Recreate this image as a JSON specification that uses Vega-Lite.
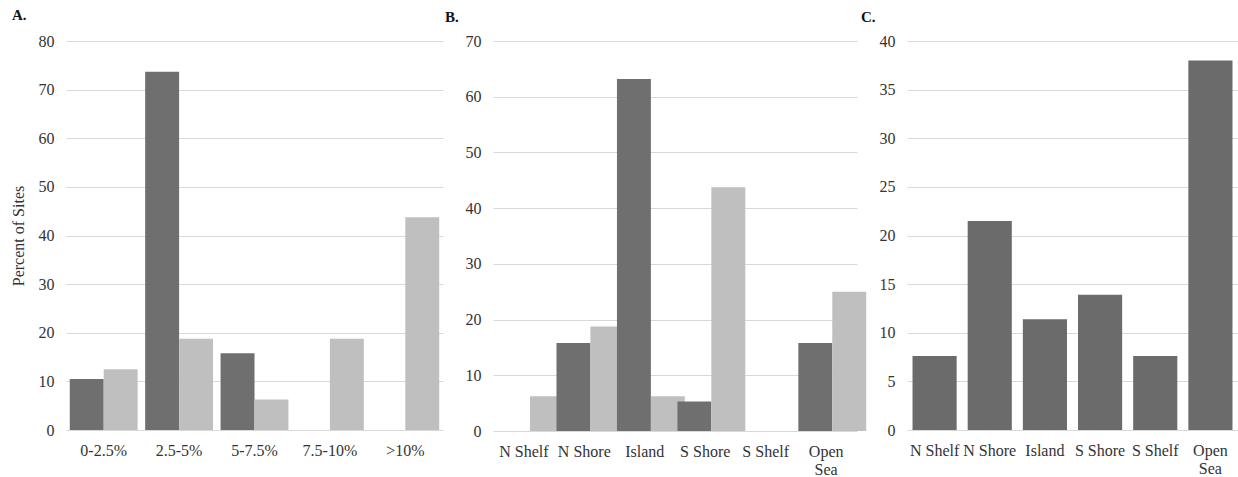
{
  "$schema": "https://vega.github.io/schema/vega-lite/v6.json",
  "padding": {"left": 10, "top": 8, "right": 0, "bottom": 0},
  "background": "white",
  "bounds": "flush",
  "datasets": {
    "a": [
      {"cat": "0-2.5%", "series": "Series 1", "value": 10.5},
      {"cat": "0-2.5%", "series": "Series 2", "value": 12.5},
      {"cat": "2.5-5%", "series": "Series 1", "value": 73.7},
      {"cat": "2.5-5%", "series": "Series 2", "value": 18.75},
      {"cat": "5-7.5%", "series": "Series 1", "value": 15.8},
      {"cat": "5-7.5%", "series": "Series 2", "value": 6.25},
      {"cat": "7.5-10%", "series": "Series 1", "value": 0},
      {"cat": "7.5-10%", "series": "Series 2", "value": 18.75},
      {"cat": ">10%", "series": "Series 1", "value": 0},
      {"cat": ">10%", "series": "Series 2", "value": 43.75}
    ],
    "b": [
      {"cat": "N Shelf", "series": "Series 1", "value": 0},
      {"cat": "N Shelf", "series": "Series 2", "value": 6.25},
      {"cat": "N Shore", "series": "Series 1", "value": 15.8},
      {"cat": "N Shore", "series": "Series 2", "value": 18.75},
      {"cat": "Island", "series": "Series 1", "value": 63.2},
      {"cat": "Island", "series": "Series 2", "value": 6.25},
      {"cat": "S Shore", "series": "Series 1", "value": 5.3},
      {"cat": "S Shore", "series": "Series 2", "value": 43.75},
      {"cat": "S Shelf", "series": "Series 1", "value": 0},
      {"cat": "S Shelf", "series": "Series 2", "value": 0},
      {"cat": "Open Sea", "series": "Series 1", "value": 15.8},
      {"cat": "Open Sea", "series": "Series 2", "value": 25}
    ],
    "c": [
      {"cat": "N Shelf", "value": 7.6},
      {"cat": "N Shore", "value": 21.5},
      {"cat": "Island", "value": 11.4},
      {"cat": "S Shore", "value": 13.9},
      {"cat": "S Shelf", "value": 7.6},
      {"cat": "Open Sea", "value": 38.0}
    ]
  },
  "config": {
    "view": {"stroke": null},
    "font": "Liberation Serif",
    "axis": {
      "labelFont": "Liberation Serif",
      "labelFontSize": 16,
      "labelColor": "#333333",
      "titleFont": "Liberation Serif",
      "titleFontSize": 16,
      "titleFontWeight": "normal",
      "titleColor": "#333333",
      "domain": false,
      "ticks": false,
      "gridColor": "#d9d9d9",
      "gridWidth": 1.2
    },
    "title": {"font": "Liberation Serif", "fontSize": 15, "fontWeight": "bold", "color": "#111111", "anchor": "start", "frame": "group"}
  },
  "spacing": 50,
  "hconcat": [
    {
      "data": {"name": "a"},
      "width": 377,
      "height": 389,
      "title": {"text": "A.", "dx": -54, "offset": 10},
      "mark": {"type": "bar"},
      "encoding": {
        "x": {"field": "cat", "type": "nominal", "sort": null, "title": null,
          "scale": {"paddingInner": 0.1, "paddingOuter": 0.05},
          "axis": {"labelAngle": 0, "labelPadding": 12, "grid": false}},
        "xOffset": {"field": "series", "type": "nominal", "scale": {"paddingInner": 0}},
        "y": {"field": "value", "type": "quantitative", "title": "Percent of Sites",
          "scale": {"domain": [0, 80], "nice": false},
          "axis": {"values": [0, 10, 20, 30, 40, 50, 60, 70, 80], "labelPadding": 12, "titlePadding": 12}},
        "color": {"field": "series", "type": "nominal", "legend": null,
          "scale": {"domain": ["Series 1", "Series 2"], "range": ["#6f6f6f", "#bfbfbf"]}}
      }
    },
    {
      "data": {"name": "b"},
      "width": 364,
      "height": 390,
      "title": {"text": "B.", "dx": -48, "offset": 8},
      "mark": {"type": "bar"},
      "encoding": {
        "x": {"field": "cat", "type": "nominal", "sort": null, "title": null,
          "scale": {"paddingInner": 0.08, "paddingOuter": 0.05},
          "axis": {"labelAngle": 0, "labelPadding": 12, "grid": false,
            "labelExpr": "datum.value == 'Open Sea' ? ['Open', 'Sea'] : datum.value"}},
        "xOffset": {"field": "series", "type": "nominal", "scale": {"paddingInner": 0}},
        "y": {"field": "value", "type": "quantitative", "title": null,
          "scale": {"domain": [0, 70], "nice": false},
          "axis": {"values": [0, 10, 20, 30, 40, 50, 60, 70], "labelPadding": 12}},
        "color": {"field": "series", "type": "nominal", "legend": null,
          "scale": {"domain": ["Series 1", "Series 2"], "range": ["#6f6f6f", "#bfbfbf"]}}
      }
    },
    {
      "data": {"name": "c"},
      "width": 331,
      "height": 389,
      "title": {"text": "C.", "dx": -46, "offset": 8},
      "mark": {"type": "bar", "color": "#6b6b6b"},
      "encoding": {
        "x": {"field": "cat", "type": "nominal", "sort": null, "title": null,
          "scale": {"paddingInner": 0.2, "paddingOuter": 0.1},
          "axis": {"labelAngle": 0, "labelPadding": 12, "grid": false,
            "labelExpr": "datum.value == 'Open Sea' ? ['Open', 'Sea'] : datum.value"}},
        "y": {"field": "value", "type": "quantitative", "title": null,
          "scale": {"domain": [0, 40], "nice": false},
          "axis": {"values": [0, 5, 10, 15, 20, 25, 30, 35, 40], "labelPadding": 12}}
      }
    }
  ]
}
